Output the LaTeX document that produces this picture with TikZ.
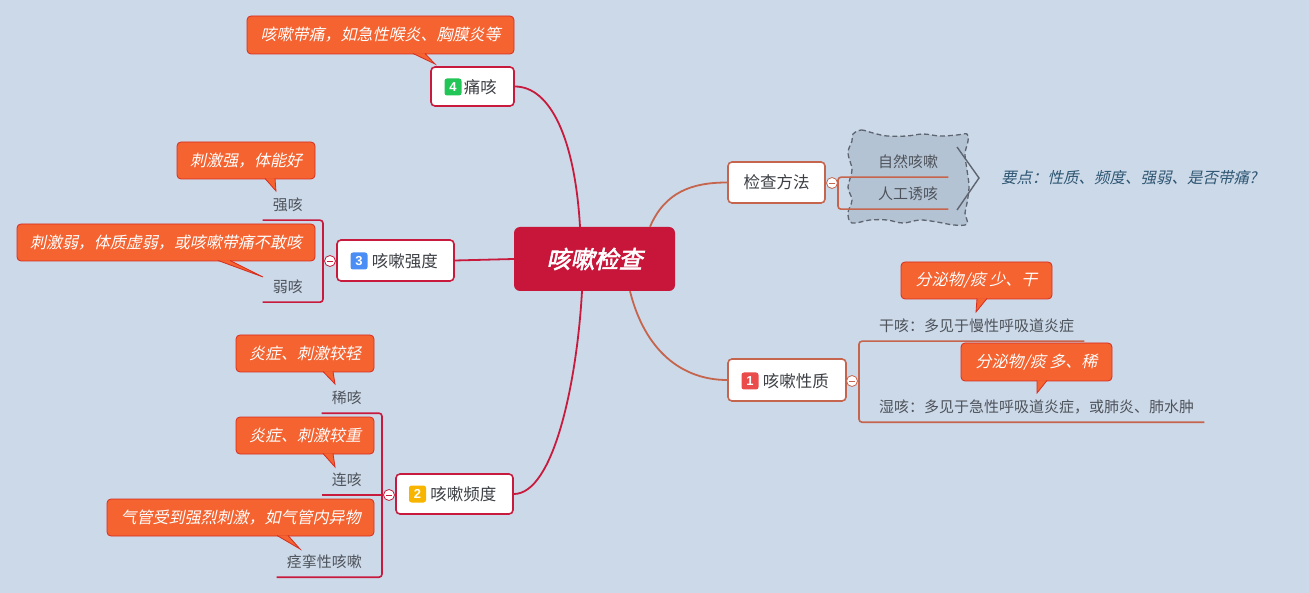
\documentclass[tikz,border=0pt]{standalone}
\usepackage{fontspec}
\setmainfont{Noto Sans CJK SC}
\newfontfamily\itfont{Noto Sans CJK SC}[FakeSlant=0.22]
\newfontfamily\rootfont{Noto Sans CJK SC}[FakeSlant=0.22,FakeBold=2.5]
\newfontfamily\numfont{Liberation Sans}
\usetikzlibrary{positioning}

\definecolor{bg}{HTML}{CCD9E8}
\definecolor{rootred}{HTML}{C8153A}
\definecolor{topicred}{HTML}{C81A3C}
\definecolor{sienna}{HTML}{C5654D}
\definecolor{noteorange}{HTML}{F46330}
\definecolor{notered}{HTML}{D62D20}
\definecolor{topictxt}{HTML}{3C3F44}
\definecolor{leafgray}{HTML}{4E535B}
\definecolor{cloudfill}{HTML}{B4C3D3}
\definecolor{cloudline}{HTML}{5E6570}
\definecolor{pointtxt}{HTML}{2F5673}
\definecolor{badgegreen}{HTML}{22C656}
\definecolor{badgeblue}{HTML}{4A8EF5}
\definecolor{badgeyellow}{HTML}{F7B500}
\definecolor{badgered}{HTML}{EA4B4B}

\tikzset{
  root/.style={fill=rootred, rounded corners=6pt, minimum width=161pt, minimum height=64pt, inner sep=0pt, text=white, font=\rootfont\fontsize{24}{26}\selectfont},
  topic/.style={draw=#1, fill=white, line width=1.6pt, rounded corners=4pt, inner sep=0pt},
  topictext/.style={font=\fontsize{16.5}{18}\selectfont, text=topictxt, inner sep=0pt},
  badge/.style={fill=#1, rounded corners=2.5pt, minimum size=17pt, inner sep=0pt, text=white, font=\numfont\bfseries\fontsize{13}{13}\selectfont},
  note/.style={fill=noteorange, draw=notered, line width=0.8pt, rounded corners=4pt, inner sep=0pt, text=white, font=\itfont\fontsize{16}{18}\selectfont},
  notetip/.style={fill=noteorange, draw=notered, line width=0.8pt},
  leaf/.style={font=\fontsize{15}{17}\selectfont, text=leafgray, inner xsep=10pt, inner ysep=0pt, minimum height=30pt},
  fold/.style={circle, draw=#1, fill=white, line width=0.8pt, minimum size=11pt, inner sep=0pt,
    path picture={\draw[#1, line width=0.8pt] ([xshift=-3pt]path picture bounding box.center) -- ([xshift=3pt]path picture bounding box.center);}},
  link/.style={draw=#1, line width=1.8pt},
  bracket/.style={draw=#1, line width=1.6pt, rounded corners=3pt},
  cloudbox/.style={fill=cloudfill, draw=cloudline, line width=1.3pt, dash pattern=on 5pt off 3pt},
  summary/.style={font=\itfont\fontsize{15.5}{17}\selectfont, text=pointtxt, inner sep=0pt},
}

\begin{document}
\begin{tikzpicture}[x=1pt, y=-1pt]
    \useasboundingbox (0,0) rectangle (1309,593);
    \fill[bg] (0,0) rectangle (1309,593);

    % --- 中心主题 ---
    \node[root] (root) at (594.5,259) {咳嗽检查};

    % --- 4 痛咳 ---
    \node[topic=topicred, minimum width=83pt, minimum height=39pt] (tong) at (472.5,86.5) {};
    \node[badge=badgegreen] (tongnum) at (453,87) {4};
    \node[topictext, right=2pt of tongnum] {痛咳};
    \node[note, minimum width=267pt, minimum height=38pt] (tongnote) at (380.5,35) {咳嗽带痛，如急性喉炎、胸膜炎等};
    \filldraw[notetip] (413,53.5) -- (435,64) -- (425,53.5);
    \draw[link=topicred] ([xshift=-14.5pt]root.north) .. controls +(-5,-87) and +(36,0) .. (tong.east);

    % --- 3 咳嗽强度 ---
    \node[topic=topicred, minimum width=117pt, minimum height=41pt] (qd) at (395.5,260.5) {};
    \node[badge=badgeblue] (qdnum) at (359,261) {3};
    \node[topictext, right=4pt of qdnum] {咳嗽强度};
    \draw[link=topicred] (root.west) -- (qd.east);
    \node[leaf, anchor=east] (qiang) at (313,205) {强咳};
    \node[leaf, anchor=east] (ruo) at (313,287) {弱咳};
    \coordinate (qdv) at (323,261);
    \draw[bracket=topicred] (qiang.south west) -- (qiang.south west -| qdv) -- (ruo.south west -| qdv) -- (ruo.south west);
    \node[fold=topicred] (qdfold) at (330,261) {};
    \draw[link=topicred, line width=1.6pt] (qdfold.west) -- (qdfold.west -| qdv);
    \node[note, minimum width=138pt, minimum height=37pt] (qiangnote) at (246,160.5) {刺激强，体能好};
    \filldraw[notetip] (265,178.5) -- (276,191) -- (275,178.5);
    \node[note, minimum width=298pt, minimum height=37pt] (ruonote) at (166,242.5) {刺激弱，体质虚弱，或咳嗽带痛不敢咳};
    \filldraw[notetip] (218,260.5) -- (263,277) -- (230,260.5);

    % --- 2 咳嗽频度 ---
    \node[topic=topicred, minimum width=117pt, minimum height=40pt] (pd) at (454.5,494) {};
    \node[badge=badgeyellow] (pdnum) at (417.5,494) {2};
    \node[topictext, right=4pt of pdnum] {咳嗽频度};
    \draw[link=topicred] ([xshift=-12.5pt]root.south) .. controls +(-5,90) and +(40,0) .. (pd.east);
    \node[leaf, anchor=east] (xi) at (372,398) {稀咳};
    \node[leaf, anchor=east] (lian) at (372,480) {连咳};
    \node[leaf, anchor=east] (jing) at (372,562) {痉挛性咳嗽};
    \coordinate (pdv) at (382,495);
    \draw[bracket=topicred] (xi.south west) -- (xi.south west -| pdv) -- (jing.south west -| pdv) -- (jing.south west);
    \draw[bracket=topicred] (lian.south west) -- (lian.south west -| pdv);
    \node[fold=topicred] (pdfold) at (389,495) {};
    \node[note, minimum width=138pt, minimum height=37pt] (xinote) at (305,353.5) {炎症、刺激较轻};
    \filldraw[notetip] (323,371.5) -- (335,384) -- (333,371.5);
    \node[note, minimum width=138pt, minimum height=37pt] (liannote) at (305,435.5) {炎症、刺激较重};
    \filldraw[notetip] (323,453.5) -- (335,467) -- (333,453.5);
    \node[note, minimum width=267pt, minimum height=37pt] (jingnote) at (240.5,517.5) {气管受到强烈刺激，如气管内异物};
    \filldraw[notetip] (277,535.5) -- (300,549) -- (288,535.5);

    % --- 检查方法 ---
    \node[topic=sienna, minimum width=97pt, minimum height=41pt] (ff) at (776.5,182.5) {};
    \node[topictext] at (ff.center) {检查方法};
    \draw[link=sienna] ([xshift=55.5pt]root.north) .. controls +(15,-35) and +(-35,0) .. (ff.west);
    \draw[cloudbox] plot[smooth cycle, tension=0.6] coordinates {
        (853,134) (861,130) (873,133) (887,136) (907,136) (923,134) (940,136) (957,135) (967,134)
        (968,141) (965,154) (967,170) (969,187) (967,203) (965,213) (967,224)
        (954,225) (937,222) (920,220) (903,223) (887,220) (870,220) (852,223)
        (848,213) (852,200) (848,187) (852,170) (848,153) (852,141)};
    \node[leaf, anchor=west] (ziran) at (868,162) {自然咳嗽};
    \node[leaf, anchor=west] (rengong) at (868,194) {人工诱咳};
    \coordinate (ffv) at (838,183);
    \draw[bracket=sienna] (ziran.south east) -- (ziran.south east -| ffv) -- (rengong.south east -| ffv) -- (rengong.south east);
    \node[fold=sienna] (fffold) at (832,183) {};
    \draw[cloudline, line width=1.4pt] (957,147) -- (979,178) -- (957,210);
    \node[summary, anchor=west] (yaodian) at (1001,178) {要点：性质、频度、强弱、是否带痛?};

    % --- 1 咳嗽性质 ---
    \node[topic=sienna, minimum width=118pt, minimum height=42pt] (xz) at (787,380) {};
    \node[badge=badgered] (xznum) at (750,381) {1};
    \node[topictext, right=4pt of xznum] {咳嗽性质};
    \draw[link=sienna] ([xshift=35.5pt]root.south) .. controls +(15,60) and +(-45,0) .. (xz.west);
    \node[leaf, anchor=west] (gan) at (869,326) {干咳：多见于慢性呼吸道炎症};
    \node[leaf, anchor=west] (shi) at (869,407) {湿咳：多见于急性呼吸道炎症，或肺炎、肺水肿};
    \coordinate (xzv) at (859,381);
    \draw[bracket=sienna] (gan.south east) -- (gan.south east -| xzv) -- (shi.south east -| xzv) -- (shi.south east);
    \node[fold=sienna] (xzfold) at (852,381) {};
    \node[note, minimum width=151pt, minimum height=37pt] (gannote) at (976.5,280.5) {分泌物/痰 少、干};
    \filldraw[notetip] (977,298.5) -- (976,312) -- (987,298.5);
    \node[note, minimum width=151pt, minimum height=38pt] (shinote) at (1036.5,362) {分泌物/痰 多、稀};
    \filldraw[notetip] (1037,380.5) -- (1037,393) -- (1047,380.5);
\end{tikzpicture}
\end{document}
